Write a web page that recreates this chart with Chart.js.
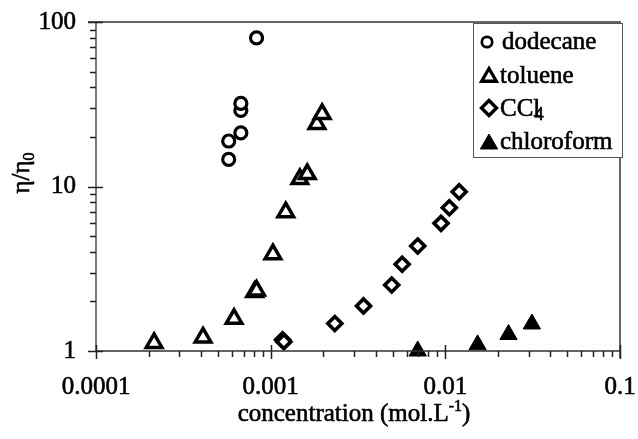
<!DOCTYPE html>
<html><head><meta charset="utf-8">
<script src="https://cdn.jsdelivr.net/npm/chart.js@4.4.0/dist/chart.umd.min.js"></script>
<style>html,body{margin:0;padding:0;background:#fff}</style>
</head><body>
<canvas id="c" width="638" height="439"></canvas>
<script>
// ---- data ----
const dodecaneX = [0.000575, 0.000575, 0.000675, 0.000675, 0.000675, 0.00083];
const dodecaneY = [14.6, 18.9, 21.2, 29.0, 32.0, 80.0];
const tolueneX = [0.000215, 0.00041, 0.000617, 0.00081, 0.00083, 0.00103, 0.00122, 0.00147, 0.00162, 0.00184, 0.00197];
const tolueneY = [1.12, 1.21, 1.57, 2.28, 2.33, 3.88, 6.98, 11.1, 11.9, 24.0, 27.6];
const ccl4X = [0.00117, 0.00119, 0.00233, 0.0034, 0.00493, 0.00566, 0.00695, 0.00945, 0.01054, 0.0120];
const ccl4Y = [1.17, 1.14, 1.47, 1.88, 2.52, 3.37, 4.35, 5.97, 7.43, 9.3];
const chloroformX = [0.00695, 0.0153, 0.0230, 0.0313];
const chloroformY = [1.0, 1.09, 1.26, 1.46];
const xTickValues = [0.0001, 0.001, 0.01, 0.1];
const xTickLabels = ['0.0001', '0.001', '0.01', '0.1'];
const yTickValues = [1, 10, 100];
const yTickLabels = ['1', '10', '100'];
const seriesNames = ['dodecane', 'toluene', 'CCl4', 'chloroform'];

const FONT = "'Liberation Serif', 'Times New Roman', serif";
const pts = (xs, ys) => xs.map((x, i) => ({ x: x, y: ys[i] }));

const framePlugin = {
  id: 'frame',
  afterDatasetsDraw(chart) {
    const ctx = chart.ctx, a = chart.chartArea;
    const xs = chart.scales.x, ys = chart.scales.y;
    ctx.save();
    // frame top/right
    ctx.strokeStyle = '#666'; ctx.lineWidth = 2;
    ctx.beginPath();
    ctx.moveTo(a.left - 8, a.top); ctx.lineTo(a.right, a.top); ctx.lineTo(a.right, a.bottom + 7);
    ctx.stroke();
    // axes
    ctx.strokeStyle = '#333'; ctx.lineWidth = 1.3;
    ctx.beginPath();
    ctx.moveTo(a.left, a.top); ctx.lineTo(a.left, a.bottom);
    ctx.lineTo(a.right, a.bottom);
    ctx.stroke();
    // ticks
    ctx.lineWidth = 1.5; ctx.strokeStyle = '#222';
    ctx.beginPath();
    for (let d = 0; d < xTickValues.length; d++) {
      const v = xTickValues[d];
      const px = Math.round(xs.getPixelForValue(v)) + 0.5;
      ctx.moveTo(px, a.bottom - 6); ctx.lineTo(px, a.bottom + 8);
      if (d < xTickValues.length - 1) {
        for (let k = 2; k <= 9; k++) {
          const q = Math.round(xs.getPixelForValue(v * k)) + 0.5;
          ctx.moveTo(q, a.bottom); ctx.lineTo(q, a.bottom + 6);
        }
      }
    }
    for (let d = 0; d < yTickValues.length; d++) {
      const v = yTickValues[d];
      const py = Math.round(ys.getPixelForValue(v)) + 0.5;
      ctx.moveTo(a.left - 8, py); ctx.lineTo(a.left + 7, py);
      if (d < yTickValues.length - 1) {
        for (let k = 2; k <= 9; k++) {
          const q = Math.round(ys.getPixelForValue(v * k)) + 0.5;
          ctx.moveTo(a.left - 6, q); ctx.lineTo(a.left, q);
        }
      }
    }
    ctx.stroke();

    ctx.fillStyle = '#000'; ctx.strokeStyle = '#000'; ctx.lineWidth = 0.6;
    const txt = (s, x, y) => { ctx.fillText(s, x, y); ctx.strokeText(s, x, y); };
    // x title with superscript
    const big = '25px ' + FONT, small = '16px ' + FONT;
    ctx.textBaseline = 'alphabetic';
    ctx.font = big;
    const t1 = 'concentration (mol.L', t3 = ')';
    const w1 = ctx.measureText(t1).width, w3 = ctx.measureText(t3).width;
    ctx.font = small; const w2 = ctx.measureText('-1').width;
    let sx = 354 - (w1 + w2 + w3) / 2;
    const by = 421;
    ctx.font = big; txt(t1, sx, by);
    ctx.font = small; txt('-1', sx + w1, by - 10);
    ctx.font = big; txt(t3, sx + w1 + w2, by);

    // y title rotated with subscript
    ctx.save();
    ctx.translate(29, 173); ctx.rotate(-Math.PI / 2);
    ctx.font = big; const e1 = ctx.measureText('η/η').width;
    ctx.font = small; const e2 = ctx.measureText('0').width;
    const s0 = -(e1 + e2) / 2;
    ctx.font = big; txt('η/η', s0, 0);
    ctx.font = small; txt('0', s0 + e1, 5);
    ctx.restore();

    // legend
    const lx = 473, ly = 23, lw = 149, lh = 134;
    ctx.fillStyle = '#fff'; ctx.fillRect(lx, ly, lw, lh);
    ctx.strokeStyle = '#555'; ctx.lineWidth = 1;
    ctx.strokeRect(lx + 0.5, ly + 0.5, lw, lh);
    const rowsBase = [49, 83, 116, 149];
    const ix = 489, tx = 500;
    ctx.strokeStyle = '#000'; ctx.fillStyle = '#000';
    ctx.lineWidth = 2.7;
    ctx.beginPath(); ctx.arc(487, 42, 5.2, 0, Math.PI * 2); ctx.fillStyle = '#fff'; ctx.fill(); ctx.stroke();
    const tri = (cx, cy, r) => {
      ctx.beginPath();
      for (let i = 0; i < 3; i++) {
        const ang = i * 2 * Math.PI / 3;
        const X = cx + Math.sin(ang) * r, Y = cy - Math.cos(ang) * r;
        if (i === 0) ctx.moveTo(X, Y); else ctx.lineTo(X, Y);
      }
      ctx.closePath();
    };
    ctx.lineWidth = 3.3; tri(ix, 77, 8.5); ctx.fillStyle = '#fff'; ctx.fill(); ctx.stroke();
    ctx.lineWidth = 3.4;
    ctx.beginPath(); ctx.moveTo(ix - 7.5, 108); ctx.lineTo(ix, 100.5); ctx.lineTo(ix + 7.5, 108); ctx.lineTo(ix, 115.5); ctx.closePath();
    ctx.fillStyle = '#fff'; ctx.fill(); ctx.stroke();
    ctx.lineWidth = 1; tri(ix, 144, 10); ctx.fillStyle = '#000'; ctx.fill(); ctx.stroke();
    ctx.fillStyle = '#000'; ctx.font = big; ctx.lineWidth = 0.6;
    txt(seriesNames[0], tx + 2, rowsBase[0]);
    txt(seriesNames[1], tx, rowsBase[1]);
    const cc = 'CCl'; txt(cc, tx, rowsBase[2]);
    const wcc = ctx.measureText(cc).width;
    ctx.font = '19px ' + FONT; txt('4', tx + wcc - 6, rowsBase[2] + 4);
    ctx.font = big; txt(seriesNames[3], tx, rowsBase[3]);
    ctx.restore();
  }
};

const tickFont = { family: FONT, size: 25 };
new Chart(document.getElementById('c').getContext('2d'), {
  type: 'scatter',
  data: {
    datasets: [
      { label: seriesNames[0], data: pts(dodecaneX, dodecaneY), pointStyle: 'circle', pointRadius: 6,
        borderWidth: 3.2, borderColor: '#000', backgroundColor: '#fff', clip: false },
      { label: seriesNames[1], data: pts(tolueneX, tolueneY), pointStyle: 'triangle', pointRadius: 9,
        borderWidth: 3.5, borderColor: '#000', backgroundColor: '#fff', clip: false },
      { label: seriesNames[2], data: pts(ccl4X, ccl4Y), pointStyle: 'rectRot', pointRadius: 7,
        borderWidth: 3.6, borderColor: '#000', backgroundColor: '#fff', clip: false },
      { label: seriesNames[3], data: pts(chloroformX, chloroformY), pointStyle: 'triangle', pointRadius: 10,
        borderWidth: 1, borderColor: '#000', backgroundColor: '#000', clip: false }
    ]
  },
  options: {
    responsive: false, animation: false, devicePixelRatio: 1,
    layout: { padding: { left: 0, right: 18, top: 22, bottom: 0 } },
    plugins: { legend: { display: false }, tooltip: { enabled: false } },
    scales: {
      x: {
        type: 'logarithmic', min: 0.0001, max: 0.1,
        grid: { display: false, drawTicks: false }, border: { display: false },
        afterBuildTicks: s => { s.ticks = xTickValues.map(v => ({ value: v })); },
        afterFit: s => { s.height = 88; s.paddingLeft = 0; s.paddingRight = 0; },
        ticks: { autoSkip: false, maxRotation: 0, minRotation: 0, padding: 21, font: tickFont, color: '#000',
          textStrokeColor: '#000', textStrokeWidth: 0.6,
          callback: (v, i) => xTickLabels[i] }
      },
      y: {
        type: 'logarithmic', min: 1, max: 100,
        grid: { display: false, drawTicks: false }, border: { display: false },
        afterBuildTicks: s => { s.ticks = yTickValues.map(v => ({ value: v })); },
        afterFit: s => { s.width = 96; s.paddingTop = 0; s.paddingBottom = 0; },
        ticks: { autoSkip: false, padding: 20, font: tickFont, color: '#000',
          textStrokeColor: '#000', textStrokeWidth: 0.6,
          callback: (v, i) => yTickLabels[i] }
      }
    }
  },
  plugins: [framePlugin]
});
</script>
</body></html>
